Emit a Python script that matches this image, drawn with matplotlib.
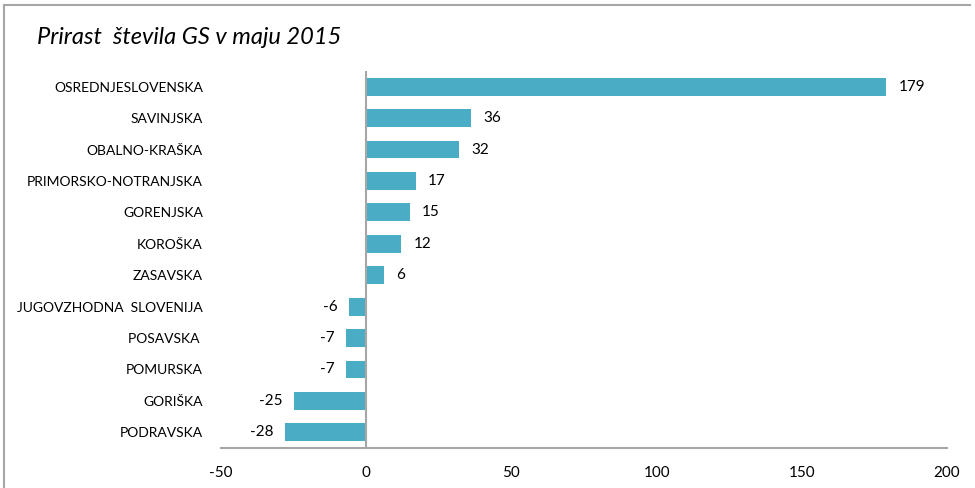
import matplotlib
matplotlib.use("Agg")
import matplotlib.pyplot as plt
from matplotlib.lines import Line2D

categories = ["OSREDNJESLOVENSKA", "SAVINJSKA", "OBALNO-KRAŠKA", "PRIMORSKO-NOTRANJSKA",
              "GORENJSKA", "KOROŠKA", "ZASAVSKA", "JUGOVZHODNA  SLOVENIJA",
              "POSAVSKA ", "POMURSKA", "GORIŠKA", "PODRAVSKA"]
values = [179, 36, 32, 17, 15, 12, 6, -6, -7, -7, -25, -28]
xticks = [-50, 0, 50, 100, 150, 200]
title = "Prirast  števila GS v maju 2015"

plt.rcParams['font.family'] = ['Lato', 'DejaVu Sans']
bar_color = "#4BACC6"
axis_color = "#A6A6A6"

fig = plt.figure(figsize=(9.75, 4.88), dpi=100)
ax = fig.add_axes([221/975, 40/488, (947-221)/975, (448-71)/488])

ypos = list(range(len(categories)))
ax.barh(ypos, values, height=0.57, color=bar_color, zorder=2)
ax.set_ylim(len(categories) - 0.5, -0.5)
ax.set_xlim(-50, 200)
ax.set_xticks(xticks)
ax.set_xticklabels([str(t) for t in xticks], fontsize=11)
ax.set_yticks(ypos)
ax.set_yticklabels(categories, fontsize=10)
ax.tick_params(axis='both', length=0)
ax.tick_params(axis='x', pad=13)
ax.tick_params(axis='y', pad=13)
for s in ['top', 'right', 'left']:
    ax.spines[s].set_visible(False)
ax.spines['bottom'].set_color(axis_color)
ax.spines['bottom'].set_linewidth(1.5)
ax.axvline(0, color=axis_color, linewidth=1.5, zorder=3)

for y, v in zip(ypos, values):
    if v >= 0:
        ax.annotate(str(v), (v, y), xytext=(9, 0), textcoords='offset points',
                    ha='left', va='center', fontsize=11)
    else:
        ax.annotate(str(v), (v, y), xytext=(-8, 0), textcoords='offset points',
                    ha='right', va='center', fontsize=11)

fig.text(37/975, 1 - 37/488, title, fontsize=17, style='italic', ha='left', va='center')

fig.add_artist(Line2D([4/975, 4/975], [0, 1 - 5/488], color=axis_color, linewidth=1.5, transform=fig.transFigure))
fig.add_artist(Line2D([4/975, 970/975], [1 - 5/488, 1 - 5/488], color=axis_color, linewidth=1.5, transform=fig.transFigure))

fig.savefig("out.png", dpi=100)
